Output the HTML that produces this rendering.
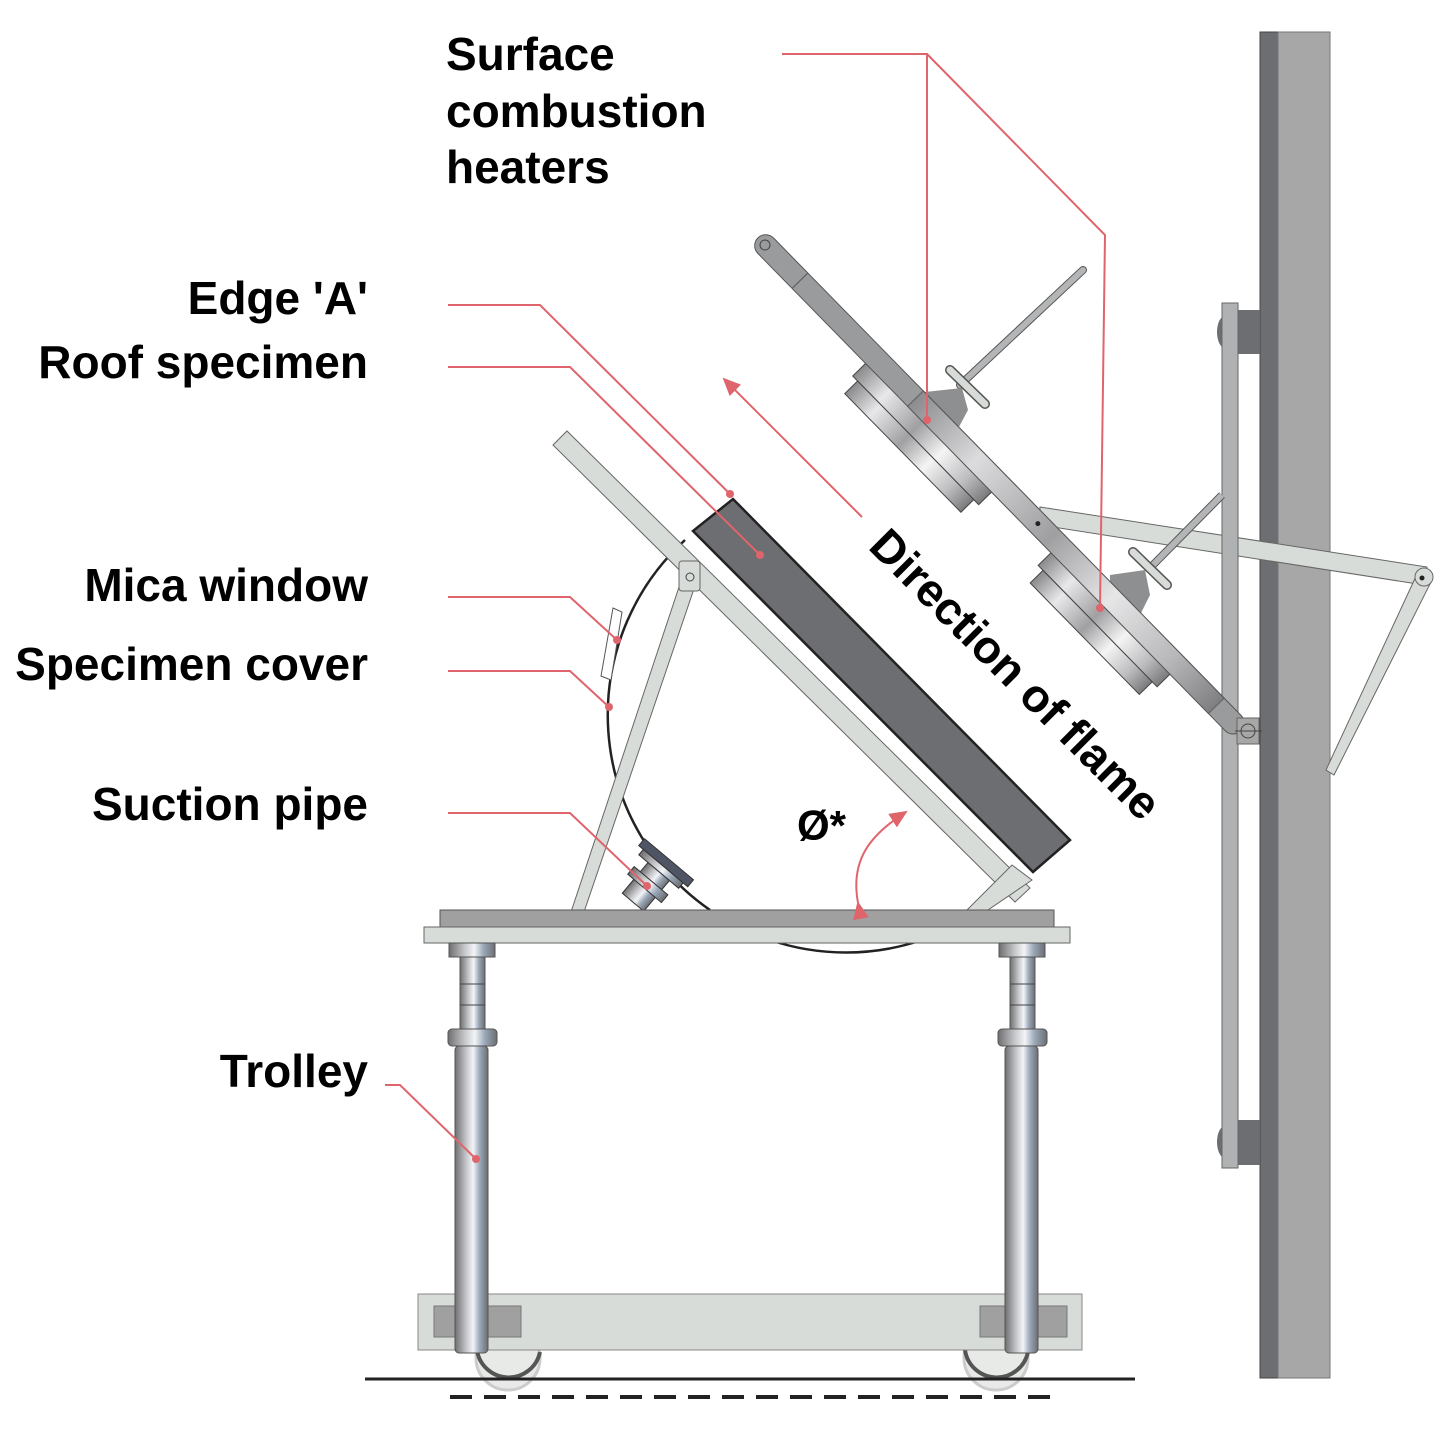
<!DOCTYPE html>
<html><head><meta charset="utf-8"><style>
html,body{margin:0;padding:0;background:#fff}
svg{display:block}
text{font-family:"Liberation Sans",sans-serif;font-weight:bold;fill:#000}
</style></head><body>
<svg width="1448" height="1434" viewBox="0 0 1448 1434" xmlns="http://www.w3.org/2000/svg">
<defs>
<linearGradient id="met" x1="0" x2="1" y1="0" y2="0">
<stop offset="0" stop-color="#6e6e70"/><stop offset="0.35" stop-color="#c8c9cc"/><stop offset="0.55" stop-color="#f2f4f7"/><stop offset="0.75" stop-color="#9aa8b8"/><stop offset="1" stop-color="#6c6e72"/>
</linearGradient>
<linearGradient id="hm" x1="0" x2="1" y1="0" y2="0">
<stop offset="0" stop-color="#8a8a8c"/><stop offset="0.2" stop-color="#e8e8ea"/><stop offset="0.45" stop-color="#a0a0a2"/><stop offset="0.65" stop-color="#f4f4f5"/><stop offset="0.85" stop-color="#bdbdbf"/><stop offset="1" stop-color="#7a7a7c"/>
</linearGradient>
<marker id="ah" markerWidth="10" markerHeight="10" refX="8" refY="5" orient="auto"><path d="M0,1 L9,5 L0,9 z" fill="#e0646c"/></marker>
</defs>

<!-- wall -->
<rect x="1260" y="32" width="18" height="1346" fill="#6d6e71" stroke="#444" stroke-width="1"/>
<rect x="1278" y="32" width="52" height="1346" fill="#a7a7a8" stroke="#777" stroke-width="1"/>
<rect x="1238" y="310" width="22" height="44" fill="#6d6e71"/>
<ellipse cx="1225" cy="332" rx="8" ry="16" fill="#6d6e71"/>
<rect x="1238" y="1120" width="22" height="45" fill="#6d6e71"/>
<ellipse cx="1225" cy="1142" rx="8" ry="16" fill="#6d6e71"/>

<!-- support struts -->
<polygon points="1040,507 1427,567 1424,585 1040,525" fill="#d8dcd8" stroke="#666" stroke-width="1"/>
<polygon points="1418,572 1432,580 1334,775 1326,770" fill="#d8dcd8" stroke="#666" stroke-width="1"/>
<circle cx="1424" cy="577" r="9" fill="#d8dcd8" stroke="#666"/>
<circle cx="1422" cy="578" r="2.5" fill="#222"/>

<!-- rail -->
<rect x="1222" y="303" width="16" height="865" fill="#b0b1b3" stroke="#666" stroke-width="1"/>

<!-- rods -->
<line x1="1083" y1="270" x2="960" y2="385" stroke="#555" stroke-width="8" stroke-linecap="round"/>
<line x1="1083" y1="270" x2="960" y2="385" stroke="#b4b5b7" stroke-width="6" stroke-linecap="round"/>
<line x1="1222" y1="495" x2="1150" y2="568" stroke="#555" stroke-width="8"/>
<line x1="1222" y1="495" x2="1150" y2="568" stroke="#b4b5b7" stroke-width="6"/>
<polygon points="925,392 962,388 968,410 952,440 925,430" fill="#8e8f91"/>
<polygon points="1110,575 1145,570 1150,595 1135,625 1110,615" fill="#8e8f91"/>
<line x1="950" y1="370" x2="985" y2="404" stroke="#555" stroke-width="10" stroke-linecap="round"/>
<line x1="950" y1="370" x2="985" y2="404" stroke="#d8dcd8" stroke-width="7" stroke-linecap="round"/>
<line x1="1133" y1="552" x2="1167" y2="585" stroke="#555" stroke-width="10" stroke-linecap="round"/>
<line x1="1133" y1="552" x2="1167" y2="585" stroke="#d8dcd8" stroke-width="7" stroke-linecap="round"/>

<!-- heater arm group rotated -->
<g transform="translate(765,245) rotate(45.6)">
  <rect x="155" y="-5" width="180" height="34" fill="url(#hm)" stroke="#444"/>
  <rect x="162" y="29" width="166" height="18" fill="url(#hm)" stroke="#444"/>
  <rect x="420" y="-5" width="170" height="34" fill="url(#hm)" stroke="#444"/>
  <rect x="427" y="29" width="156" height="18" fill="url(#hm)" stroke="#444"/>
  <rect x="-10" y="-11" width="690" height="22" rx="11" fill="#9a9b9d" stroke="#555" stroke-width="1"/>
  <rect x="215" y="-11" width="430" height="22" fill="url(#hm)" stroke="#555" stroke-width="1" opacity="0.85"/>
  <line x1="50" y1="-11" x2="50" y2="11" stroke="#555"/>
  <circle cx="0" cy="0" r="5" fill="none" stroke="#444"/>
  <circle cx="390" cy="0" r="2.5" fill="#222"/>
</g>
<!-- pivot -->
<rect x="1237" y="718" width="22" height="26" fill="#a7a7a8" stroke="#666"/>
<circle cx="1248" cy="731" r="7" fill="none" stroke="#444"/>
<line x1="1235" y1="731" x2="1262" y2="731" stroke="#444"/>

<!-- specimen cover circle -->
<path d="M685,540 A237,237 0 0 0 710,910" fill="none" stroke="#222" stroke-width="2.5"/>
<path d="M770,940 A237,237 0 0 0 922,940" fill="none" stroke="#222" stroke-width="2.5"/>
<polygon points="613,608 622,612 611,680 601,676" fill="#fff" stroke="#555"/>

<!-- left strut -->
<polygon points="682,578 697,580 584,912 571,912" fill="#d8dcd8" stroke="#666"/>
<!-- frame bar -->
<polygon points="553,445 567,431 1030,888 1015,902" fill="#d8dcd8" stroke="#666"/>
<polygon points="1012,865 1032,880 985,912 965,912" fill="#d8dcd8" stroke="#666"/>
<rect x="679" y="561" width="21" height="30" rx="3" fill="#d8dcd8" stroke="#666"/>
<circle cx="690" cy="577" r="4" fill="none" stroke="#444"/>
<!-- specimen -->
<polygon points="693,531 733,499 1070,840 1033,872" fill="#6d6e71" stroke="#222" stroke-width="2.5"/>

<!-- suction pipe -->
<g transform="translate(660,870) rotate(40)">
  <rect x="-32" y="-14" width="64" height="9" fill="#4f5564" stroke="#333"/>
  <rect x="-26" y="-5" width="52" height="7" fill="url(#met)" stroke="#333"/>
  <rect x="-14" y="2" width="28" height="40" fill="url(#met)" stroke="#333"/>
  <rect x="-22" y="14" width="44" height="10" fill="url(#met)" stroke="#333"/>
</g>

<!-- table -->
<rect x="440" y="910" width="614" height="17" fill="#a0a0a1" stroke="#555"/>
<rect x="424" y="927" width="646" height="16" fill="#d8dcd8" stroke="#666"/>

<!-- legs -->
<g>
<rect x="449" y="943" width="46" height="14" fill="url(#met)" stroke="#555"/>
<rect x="460" y="957" width="25" height="75" fill="url(#met)" stroke="#555"/>
<line x1="460" y1="984" x2="485" y2="984" stroke="#444"/>
<line x1="460" y1="1005" x2="485" y2="1005" stroke="#444"/>
<rect x="448" y="1029" width="49" height="17" rx="4" fill="url(#met)" stroke="#555"/>
</g>
<g transform="translate(550,0)">
<rect x="449" y="943" width="46" height="14" fill="url(#met)" stroke="#555"/>
<rect x="460" y="957" width="25" height="75" fill="url(#met)" stroke="#555"/>
<line x1="460" y1="984" x2="485" y2="984" stroke="#444"/>
<line x1="460" y1="1005" x2="485" y2="1005" stroke="#444"/>
<rect x="448" y="1029" width="49" height="17" rx="4" fill="url(#met)" stroke="#555"/>
</g>
<!-- wheels -->
<circle cx="508" cy="1358" r="32" fill="#e8eae8" stroke="#ccc" stroke-width="3"/>
<path d="M477,1350 A32,32 0 0 0 540,1352" fill="none" stroke="#555" stroke-width="4"/>
<circle cx="996" cy="1358" r="32" fill="#e8eae8" stroke="#ccc" stroke-width="3"/>
<path d="M965,1350 A32,32 0 0 0 1028,1352" fill="none" stroke="#555" stroke-width="4"/>
<!-- base -->
<rect x="418" y="1294" width="664" height="56" fill="#d8dcd8" stroke="#888"/>
<rect x="434" y="1306" width="87" height="31" fill="#a0a0a1" stroke="#777"/>
<rect x="980" y="1306" width="87" height="31" fill="#a0a0a1" stroke="#777"/>
<rect x="455" y="1046" width="33" height="307" rx="4" fill="url(#met)" stroke="#555"/>
<rect x="1005" y="1046" width="33" height="307" rx="4" fill="url(#met)" stroke="#555"/>

<!-- ground -->
<line x1="365" y1="1379" x2="1135" y2="1379" stroke="#222" stroke-width="3"/>
<line x1="450" y1="1397" x2="1057" y2="1397" stroke="#222" stroke-width="4" stroke-dasharray="22,12"/>

<!-- leaders -->
<g fill="none" stroke="#e0646c" stroke-width="2">
<polyline points="782,54 927,54 927,420"/>
<polyline points="927,54 1105,235 1100,608"/>
<polyline points="448,305 540,305 730,494"/>
<polyline points="448,367 570,367 760,555"/>
<polyline points="448,597 570,597 617,640"/>
<polyline points="448,671 570,671 609,707"/>
<polyline points="448,813 570,813 647,886"/>
<polyline points="385,1085 400,1085 476,1159"/>
<line x1="862" y1="517" x2="724" y2="379" marker-end="url(#ah)"/>
<path d="M858,903 C850,860 870,835 906,812" marker-end="url(#ah)" marker-start="url(#ah)"/>
</g>
<g fill="#e0646c">
<circle cx="927" cy="420" r="4"/><circle cx="1100" cy="608" r="4"/>
<circle cx="730" cy="494" r="4"/><circle cx="760" cy="555" r="4"/>
<circle cx="617" cy="640" r="4"/><circle cx="609" cy="707" r="4"/>
<circle cx="647" cy="886" r="4"/><circle cx="476" cy="1159" r="4"/>
</g>

<!-- labels -->
<g font-size="46">
<text x="446" y="70">Surface</text>
<text x="446" y="127">combustion</text>
<text x="446" y="183">heaters</text>
<text x="368" y="314" text-anchor="end">Edge 'A'</text>
<text x="368" y="378" text-anchor="end">Roof specimen</text>
<text x="368" y="601" text-anchor="end">Mica window</text>
<text x="368" y="680" text-anchor="end">Specimen cover</text>
<text x="368" y="820" text-anchor="end">Suction pipe</text>
<text x="368" y="1087" text-anchor="end">Trolley</text>
<text x="797" y="840" font-weight="normal" font-size="42">Ø*</text>
<text transform="translate(867,548) rotate(45)" font-size="46">Direction of flame</text>
</g>
</svg>
</body></html>
